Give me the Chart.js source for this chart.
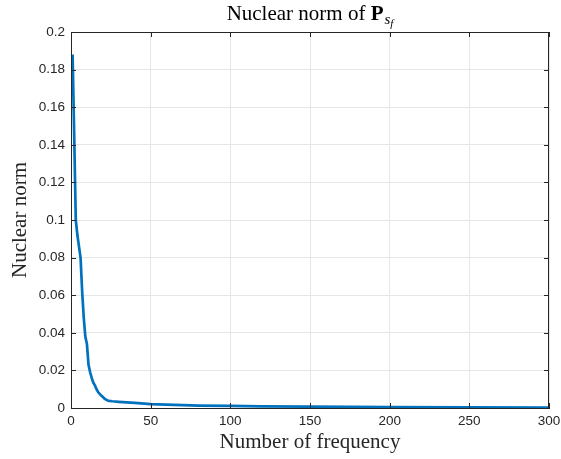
<!DOCTYPE html>
<html>
<head>
<meta charset="utf-8">
<script src="https://cdn.jsdelivr.net/npm/chart.js@4"></script>
<style>
  html, body { margin: 0; padding: 0; background: #fff; }
  #wrap { width: 561px; height: 459px; }
</style>
</head>
<body>
<div id="wrap"><canvas id="nuclearNorm" width="561" height="459"></canvas></div>
<script>
// frequency index and nuclear norm values
const freqs = [1, 2, 3, 4, 5, 6, 7, 8, 9, 10, 11, 12, 13, 14, 15, 16, 17, 18, 19, 20,
               21, 22, 23, 24, 26, 30, 35, 40, 50, 60, 70, 80, 100, 120, 150, 200, 250, 300];
const norms = [0.188, 0.145, 0.100, 0.092, 0.086, 0.080, 0.062, 0.048, 0.038, 0.034,
               0.023, 0.019, 0.016, 0.0135, 0.012, 0.010, 0.0085, 0.0075, 0.0066, 0.0058,
               0.005, 0.0045, 0.004, 0.0038, 0.0036, 0.0033, 0.003, 0.0027, 0.0021, 0.0018,
               0.0015, 0.0013, 0.0011, 0.0009, 0.0007, 0.0005, 0.0003, 0.0002];
const xTicks = [0, 50, 100, 150, 200, 250, 300];
const yTicks = [0, 0.02, 0.04, 0.06, 0.08, 0.1, 0.12, 0.14, 0.16, 0.18, 0.2];

const axisColor = "#262626";
const gridColor = "#e6e6e6";

// matlab style box + inward ticks + title with bold P and subscript
const boxPlugin = {
    id: "matlabBox",
    afterDraw(chart) {
        const c = chart.ctx;
        const a = chart.chartArea;
        const xs = chart.scales.x, ys = chart.scales.y;
        c.save();
        c.strokeStyle = axisColor;
        c.lineWidth = 1;
        c.strokeRect(a.left + 0.5, a.top + 0.5, a.right - a.left - 1, a.bottom - a.top);
        c.beginPath();
        xTicks.forEach(v => {
            const px = Math.round(xs.getPixelForValue(v)) + 0.5;
            c.moveTo(px, a.bottom); c.lineTo(px, a.bottom - 5);
            c.moveTo(px, a.top); c.lineTo(px, a.top + 5);
        });
        yTicks.forEach(v => {
            const py = Math.round(ys.getPixelForValue(v)) + 0.5;
            c.moveTo(a.left, py); c.lineTo(a.left + 5, py);
            c.moveTo(a.right, py); c.lineTo(a.right - 5, py);
        });
        c.stroke();

        // title
        const cx = (a.left + a.right) / 2;
        const base = 20;
        c.fillStyle = "#000";
        c.textBaseline = "alphabetic";
        const part1 = "Nuclear norm of ";
        c.font = "21px 'Liberation Serif'";
        const w1 = c.measureText(part1).width;
        c.font = "bold 21px 'Liberation Serif'";
        const w2 = c.measureText("P").width;
        c.font = "italic 15px 'Liberation Serif'";
        const w3 = c.measureText("s").width;
        c.font = "italic 11px 'Liberation Serif'";
        const w4 = c.measureText("f").width;
        let x0 = cx - (w1 + w2 + w3 + w4 + 1) / 2;
        c.textAlign = "left";
        c.font = "21px 'Liberation Serif'";
        c.fillText(part1, x0, base);
        x0 += w1;
        c.font = "bold 21px 'Liberation Serif'";
        c.fillText("P", x0, base);
        x0 += w2 + 1;
        c.font = "italic 15px 'Liberation Serif'";
        c.fillText("s", x0, base + 4);
        x0 += w3;
        c.font = "italic 11px 'Liberation Serif'";
        c.fillText("f", x0, base + 7);
        c.restore();
    }
};

const chart = new Chart(document.getElementById("nuclearNorm"), {
    type: "line",
    data: {
        datasets: [{
            data: freqs.map((f, i) => ({ x: f, y: norms[i] })),
            borderColor: "#0072BD",
            borderWidth: 2.7,
            pointRadius: 0,
            tension: 0,
            fill: false
        }]
    },
    options: {
        responsive: false,
        animation: false,
        layout: { padding: { top: 32, right: 12, left: 0, bottom: 0 } },
        plugins: { legend: { display: false }, tooltip: { enabled: false } },
        scales: {
            x: {
                type: "linear",
                min: 0, max: 300,
                afterBuildTicks: s => { s.ticks = xTicks.map(v => ({ value: v })); },
                afterFit: s => { s.height = 51; s.paddingLeft = 0; s.paddingRight = 0; },
                grid: { color: gridColor, drawTicks: false },
                border: { color: axisColor },
                ticks: {
                    color: axisColor, padding: 5,
                    font: { family: "'Liberation Sans'", size: 13.5 }
                },
                title: {
                    display: true, text: "Number of frequency", color: axisColor,
                    padding: { top: 0, bottom: 4 },
                    font: { family: "'Liberation Serif'", size: 21 }
                }
            },
            y: {
                min: 0, max: 0.2,
                afterBuildTicks: s => { s.ticks = yTicks.map(v => ({ value: v })); },
                afterFit: s => { s.width = 71; },
                grid: { color: gridColor, drawTicks: false },
                border: { color: axisColor },
                ticks: {
                    color: axisColor, padding: 6,
                    font: { family: "'Liberation Sans'", size: 13.5 },
                    callback: v => String(+v.toFixed(2))
                },
                title: {
                    display: true, text: "Nuclear norm", color: axisColor,
                    padding: { top: 8, bottom: 0 },
                    font: { family: "'Liberation Serif'", size: 21 }
                }
            }
        }
    },
    plugins: [boxPlugin]
});
</script>
</body>
</html>
